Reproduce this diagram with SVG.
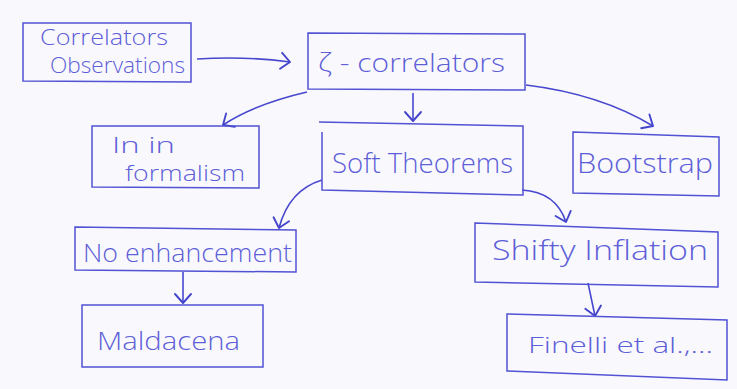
<svg xmlns="http://www.w3.org/2000/svg" width="737" height="389" viewBox="0 0 737 389">
  <style>
    .bg { fill: #f9f9fd; }
    .box { fill: none; stroke: #5252d4; stroke-width: 1.5; stroke-linejoin: miter; }
    .lbl { font-family: "Open Sans", "Liberation Sans", "DejaVu Sans", sans-serif; fill: #5e5ed8; font-weight: 300; }
    .edge { fill: none; stroke: #4848cf; stroke-width: 1.6; }
    .head { fill: none; stroke: #4444cc; stroke-width: 1.9; stroke-linecap: round; stroke-linejoin: round; }
  </style>
  <defs>
    <marker id="arr" markerUnits="userSpaceOnUse" markerWidth="24" markerHeight="24" refX="11" refY="10" orient="auto" viewBox="0 0 24 20">
      <path class="head" d="M2,2 L11,10 L2,18"/>
    </marker>
  </defs>
  <rect class="bg" x="0" y="0" width="737" height="389"/>

  <g id="connectors">
    <path class="edge" d="M197,59 Q245,56 290,62" marker-end="url(#arr)"/>
    <path class="edge" d="M307,92 Q255,104 223,125" marker-end="url(#arr)"/>
    <path class="edge" d="M413,93 L413,121" marker-end="url(#arr)"/>
    <path class="edge" d="M526,85 Q600,94 653,126" marker-end="url(#arr)"/>
    <path class="edge" d="M322,180 Q289,190 279,228" marker-end="url(#arr)"/>
    <path class="edge" d="M522,190 Q556,192 566,222" marker-end="url(#arr)"/>
    <path class="edge" d="M183,272 L183,303" marker-end="url(#arr)"/>
    <path class="edge" d="M588,283 L595,316" marker-end="url(#arr)"/>
  </g>

  <g id="n-observations">
    <path class="box" d="M23,23 L191,23 L191,82 L23,81 Z"/>
    <text class="lbl" x="40" y="45" font-size="22" textLength="128" lengthAdjust="spacingAndGlyphs">Correlators</text>
    <text class="lbl" x="50" y="73" font-size="22" textLength="135" lengthAdjust="spacingAndGlyphs">Observations</text>
  </g>

  <g id="n-zeta">
    <path class="box" d="M308,33 L525,34 L525,90 L308,89 Z"/>
    <text class="lbl" x="318" y="72" font-size="26" textLength="187" lengthAdjust="spacingAndGlyphs">ζ - correlators</text>
  </g>

  <g id="n-inin">
    <path class="box" d="M92,126 L259,126 L259,188 L92,187 Z"/>
    <text class="lbl" x="112" y="153" font-size="22" textLength="63" lengthAdjust="spacingAndGlyphs">In in</text>
    <text class="lbl" x="125" y="181" font-size="22" textLength="120" lengthAdjust="spacingAndGlyphs">formalism</text>
  </g>

  <g id="n-soft">
    <path class="box" d="M319,122 L523,126 L523,195 L322,190 L322,132"/>
    <text class="lbl" x="332" y="173" font-size="28" textLength="181" lengthAdjust="spacingAndGlyphs">Soft Theorems</text>
  </g>

  <g id="n-bootstrap">
    <path class="box" d="M573,132 L719,137 L719,196 L573,193 Z"/>
    <text class="lbl" x="577" y="173" font-size="28" textLength="136" lengthAdjust="spacingAndGlyphs">Bootstrap</text>
  </g>

  <g id="n-noenh">
    <path class="box" d="M75,227 L296,230 L296,272 L75,270 Z"/>
    <text class="lbl" x="83" y="262" font-size="26" textLength="209" lengthAdjust="spacingAndGlyphs">No enhancement</text>
  </g>

  <g id="n-shifty">
    <path class="box" d="M475,223 L718,232 L718,287 L475,282 Z"/>
    <text class="lbl" x="492" y="260" font-size="28" textLength="216" lengthAdjust="spacingAndGlyphs">Shifty Inflation</text>
  </g>

  <g id="n-maldacena">
    <path class="box" d="M82,305 L263,305 L263,367 L82,367 Z"/>
    <text class="lbl" x="97" y="350" font-size="26" textLength="143" lengthAdjust="spacingAndGlyphs">Maldacena</text>
  </g>

  <g id="n-finelli">
    <path class="box" d="M507,314 L727,320 L727,380 L507,371 Z"/>
    <text class="lbl" x="528" y="353" font-size="22" textLength="185" lengthAdjust="spacingAndGlyphs">Finelli et al.,...</text>
  </g>
</svg>
